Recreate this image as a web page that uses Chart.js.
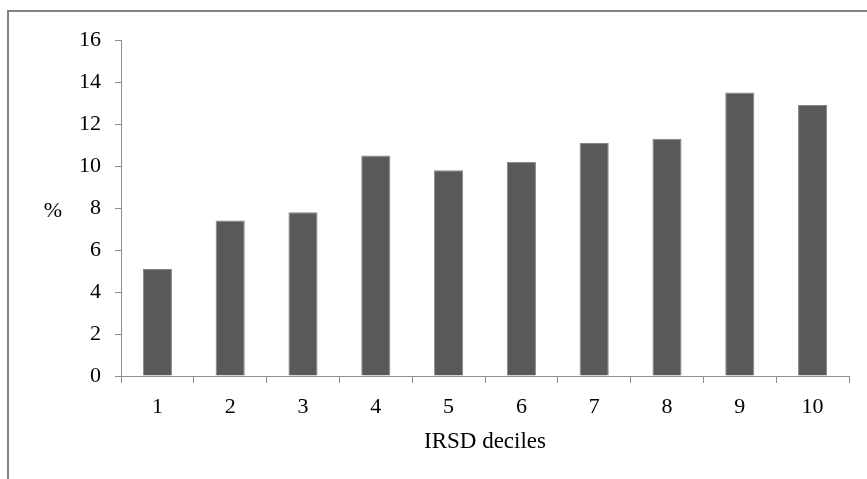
<!DOCTYPE html>
<html>
<head>
<meta charset="utf-8">
<script src="https://cdn.jsdelivr.net/npm/chart.js@4.4.0/dist/chart.umd.min.js"></script>
<style>
  html, body { margin: 0; padding: 0; background: #fff; }
  #wrap { width: 867px; height: 479px; position: relative; }
</style>
</head>
<body>
<div id="wrap"><canvas id="c" width="867" height="479"></canvas></div>
<script>
// IRSD deciles and the share (%) in each
const deciles = ['1', '2', '3', '4', '5', '6', '7', '8', '9', '10'];
const percentages = [5.1, 7.4, 7.8, 10.5, 9.8, 10.2, 11.1, 11.3, 13.5, 12.9];
const yTicks = [0, 2, 4, 6, 8, 10, 12, 14, 16];

const serif = "'Liberation Serif', 'Times New Roman', serif";
const axisGrey = '#8c8c8c';
const textColour = '#000';

// Grey frame around the figure plus the horizontal "%" axis label
const framePlugin = {
  id: 'frame',
  beforeDraw(chart) {
    const ctx = chart.ctx;
    ctx.save();
    ctx.strokeStyle = '#828282';
    ctx.lineWidth = 2;
    ctx.beginPath();
    ctx.moveTo(8, chart.height + 2);
    ctx.lineTo(8, 11);
    ctx.lineTo(chart.width + 2, 11);
    ctx.stroke();
    ctx.restore();
  },
  afterDraw(chart) {
    const ctx = chart.ctx;
    const y = chart.scales.y;
    ctx.save();
    ctx.fillStyle = textColour;
    ctx.font = '22px ' + serif;
    ctx.textAlign = 'center';
    ctx.textBaseline = 'middle';
    ctx.fillText('%', 53, y.getPixelForValue(8) + 3);
    ctx.restore();
  }
};

new Chart(document.getElementById('c'), {
  type: 'bar',
  data: {
    labels: deciles,
    datasets: [{
      data: percentages,
      backgroundColor: '#595959',
      borderColor: '#858585',
      borderWidth: 1,
      categoryPercentage: 1.0,
      barPercentage: 0.4
    }]
  },
  options: {
    responsive: false,
    animation: false,
    events: [],
    layout: { padding: { left: 0, right: 18, top: 40, bottom: 20 } },
    plugins: { legend: { display: false }, tooltip: { enabled: false } },
    scales: {
      x: {
        afterFit(scale) { scale.height = 83; },
        grid: {
          offset: true,
          drawOnChartArea: false,
          drawTicks: true,
          tickLength: 7,
          tickColor: axisGrey,
          lineWidth: 1
        },
        border: { display: true, color: axisGrey, width: 1 },
        ticks: {
          color: textColour,
          font: { family: serif, size: 22 },
          padding: 11,
          maxRotation: 0
        },
        title: {
          display: true,
          text: 'IRSD deciles',
          color: textColour,
          font: { family: serif, size: 23 },
          padding: { top: 4, bottom: 3 }
        }
      },
      y: {
        min: 0,
        max: 16,
        afterFit(scale) { scale.width = 121; },
        afterBuildTicks(scale) { scale.ticks = yTicks.map(v => ({ value: v })); },
        grid: {
          drawOnChartArea: false,
          drawTicks: true,
          tickLength: 6,
          tickColor: axisGrey,
          lineWidth: 1
        },
        border: { display: true, color: axisGrey, width: 1 },
        ticks: {
          color: textColour,
          font: { family: serif, size: 22 },
          padding: 14
        }
      }
    }
  },
  plugins: [framePlugin]
});
</script>
</body>
</html>
